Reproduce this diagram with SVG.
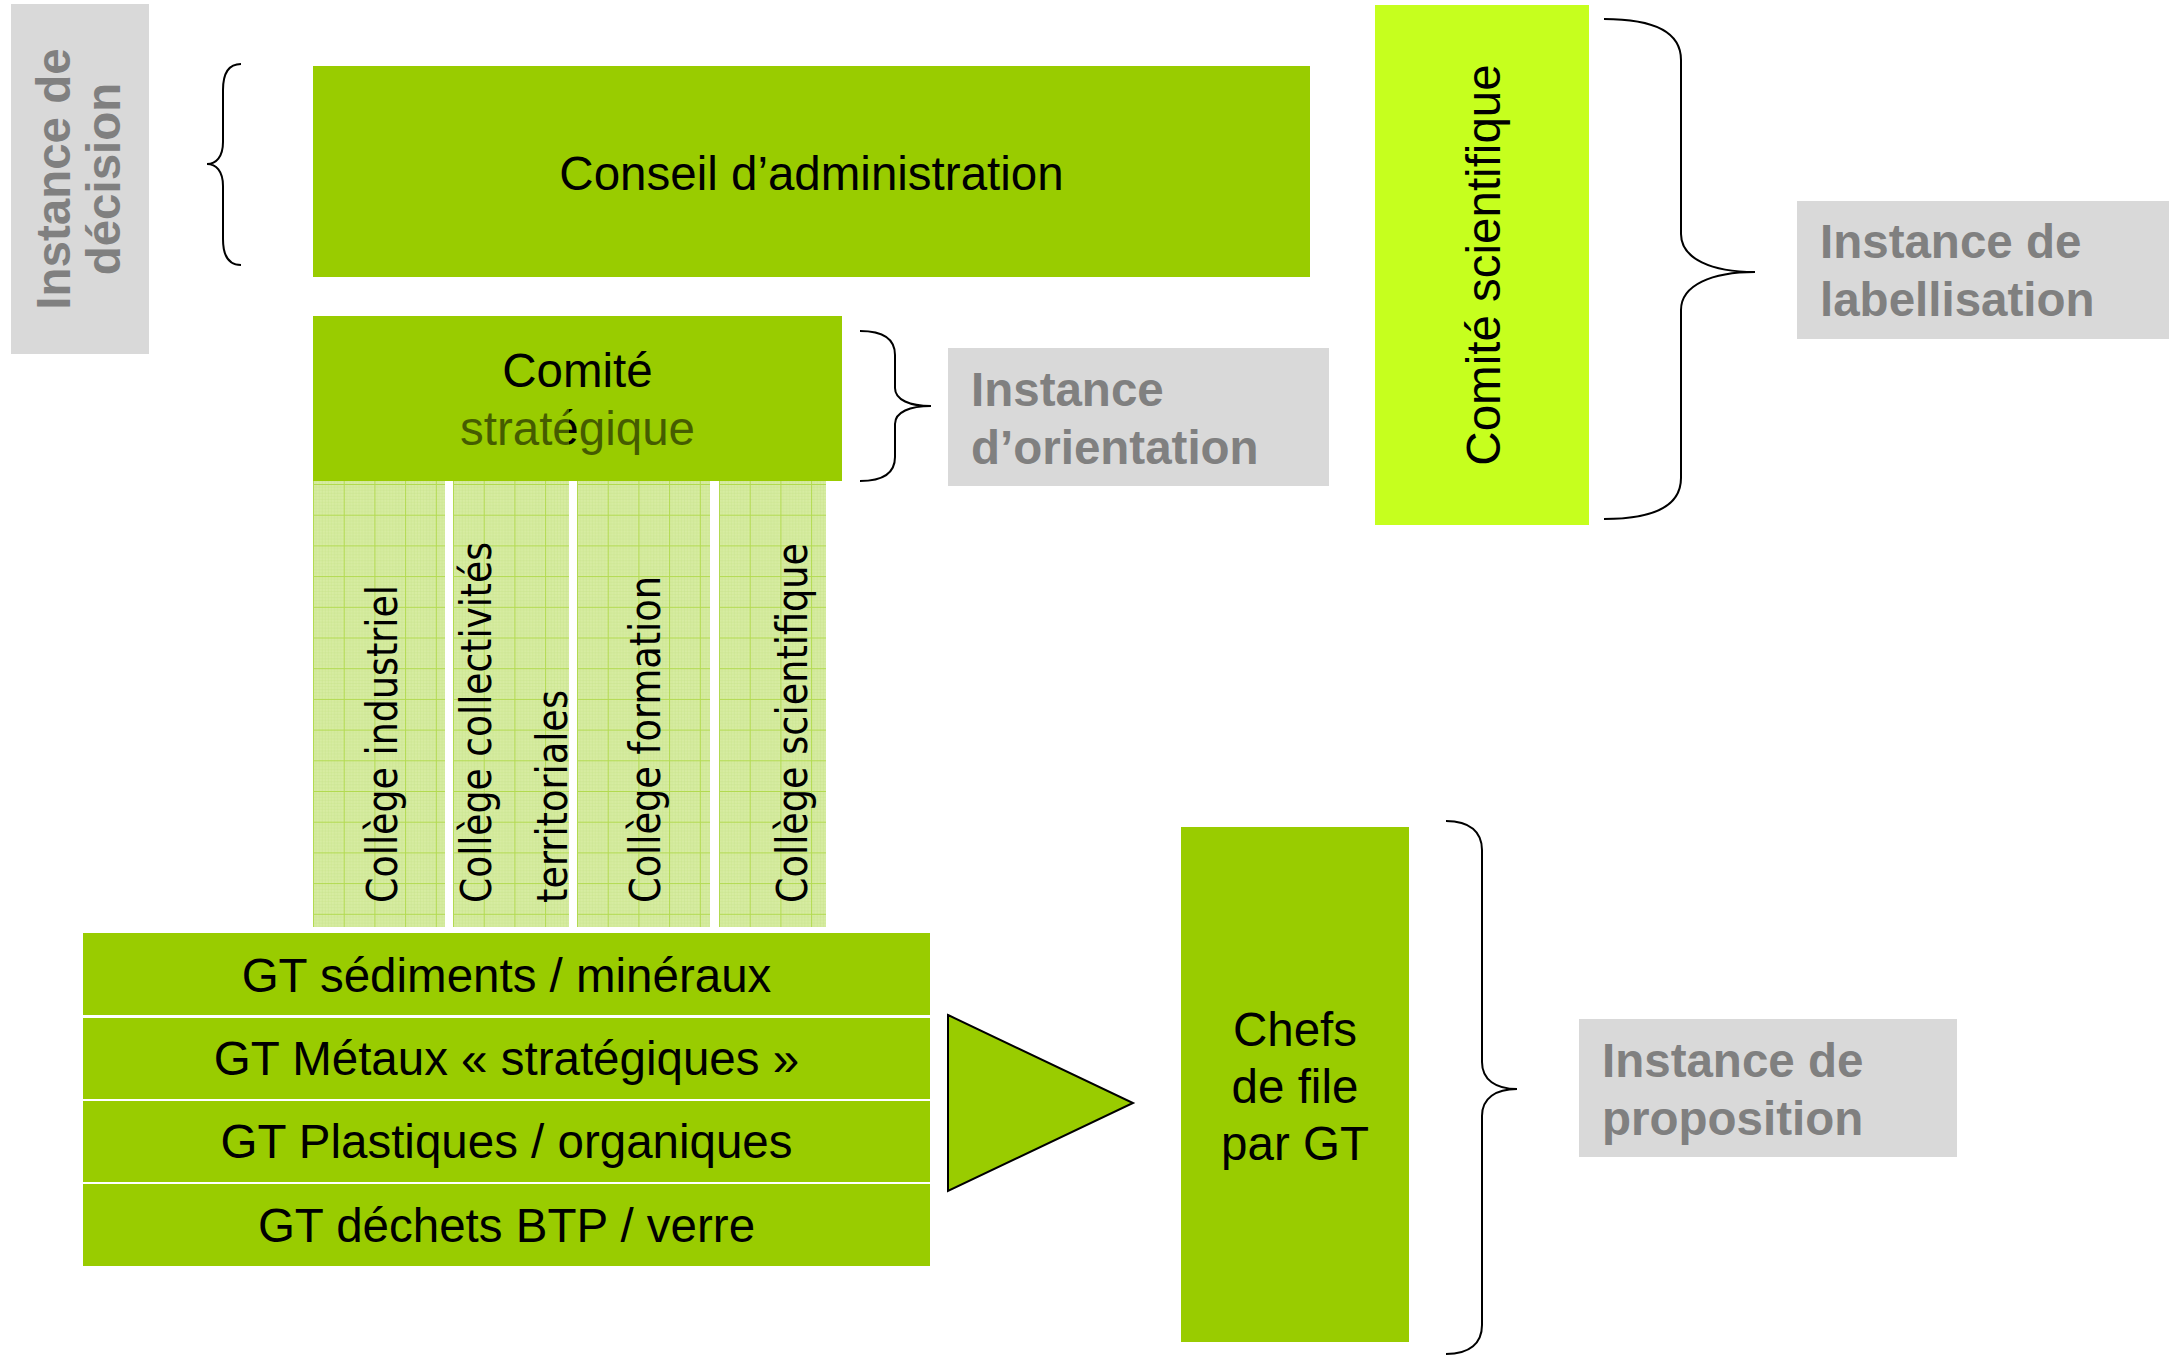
<svg xmlns="http://www.w3.org/2000/svg" width="2179" height="1358" viewBox="0 0 2179 1358">
  <style>
    .box { fill: #99cc00; }
    .sci { fill: #c6ff1e; }
    .gray { fill: #d9d9d9; }
    .t { font-family: "Liberation Sans", Arial, sans-serif; font-size: 47.5px; fill: #000000; }
    .g { font-family: "Liberation Sans", Arial, sans-serif; font-weight: bold; font-size: 47.5px; fill: #808080; }
    .c { font-family: "DejaVu Sans", Verdana, sans-serif; font-size: 43px; fill: #000000; }
    .brace { fill: none; stroke: #000000; stroke-width: 2; }
    .ov { fill: #99cc00; opacity: 0.45; }
  </style>
  <defs>
    <pattern id="grid" patternUnits="userSpaceOnUse" x="0" y="3" width="30.7" height="30.7">
      <rect x="0" y="0" width="30.7" height="30.7" fill="#d7eca2"/>
      <path d="M3.07,0V30.7M6.14,0V30.7M9.21,0V30.7M12.28,0V30.7M15.35,0V30.7M18.42,0V30.7M21.49,0V30.7M24.56,0V30.7M27.63,0V30.7M0,3.07H30.7M0,6.14H30.7M0,9.21H30.7M0,12.28H30.7M0,15.35H30.7M0,18.42H30.7M0,21.49H30.7M0,24.56H30.7M0,27.63H30.7" stroke="#c6e288" stroke-width="0.8" opacity="0.5" fill="none"/>
      <path d="M0.5,0V30.7M0,0.5H30.7" stroke="#b2da50" stroke-width="1" fill="none"/>
    </pattern>
  </defs>

  <!-- Instance de décision -->
  <g id="instance-decision">
    <rect class="gray" x="11" y="4" width="138" height="350"/>
    <text class="g" transform="translate(70,179) rotate(-90)" text-anchor="middle">Instance de</text>
    <text class="g" transform="translate(120,179) rotate(-90)" text-anchor="middle">décision</text>
  </g>

  <!-- Conseil d'administration -->
  <g id="conseil">
    <rect class="box" x="313" y="66" width="997" height="211"/>
    <text class="t" x="811.5" y="190" text-anchor="middle">Conseil d’administration</text>
  </g>

  <!-- Comité stratégique -->
  <g id="comite-strategique">
    <rect class="box" x="313" y="316" width="529" height="165"/>
    <text class="t" x="577.5" y="387" text-anchor="middle">Comité</text>
    <text class="t" x="577.5" y="445" text-anchor="middle">stratégique</text>
    <rect class="ov" x="313" y="393" width="132" height="88"/>
    <rect class="ov" x="453" y="393" width="116" height="88"/>
    <rect class="ov" x="577" y="393" width="133" height="88"/>
    <rect class="ov" x="719" y="393" width="107" height="88"/>
  </g>

  <!-- Collèges -->
  <g id="college-industriel">
    <g transform="translate(313,481)"><rect x="0" y="0" width="132" height="446" fill="url(#grid)"/></g>
    <text class="c" transform="translate(397,903) rotate(-90)" textLength="318" lengthAdjust="spacingAndGlyphs">Collège industriel</text>
  </g>
  <g id="college-collectivites">
    <g transform="translate(453,481)"><rect x="0" y="0" width="116" height="446" fill="url(#grid)"/></g>
    <text class="c" transform="translate(491,903) rotate(-90)" textLength="361" lengthAdjust="spacingAndGlyphs">Collège collectivités</text>
    <text class="c" transform="translate(567,903) rotate(-90)" textLength="213" lengthAdjust="spacingAndGlyphs">territoriales</text>
  </g>
  <g id="college-formation">
    <g transform="translate(577,481)"><rect x="0" y="0" width="133" height="446" fill="url(#grid)"/></g>
    <text class="c" transform="translate(660,903) rotate(-90)" textLength="327" lengthAdjust="spacingAndGlyphs">Collège formation</text>
  </g>
  <g id="college-scientifique">
    <g transform="translate(719,481)"><rect x="0" y="0" width="107" height="446" fill="url(#grid)"/></g>
    <text class="c" transform="translate(807,903) rotate(-90)" textLength="360" lengthAdjust="spacingAndGlyphs">Collège scientifique</text>
  </g>

  <!-- Instance d'orientation -->
  <g id="instance-orientation">
    <rect class="gray" x="948" y="348" width="381" height="138"/>
    <text class="g" x="971" y="406">Instance</text>
    <text class="g" x="971" y="464">d’orientation</text>
  </g>

  <!-- Comité scientifique -->
  <g id="comite-scientifique">
    <rect class="sci" x="1375" y="5" width="214" height="520"/>
    <text class="t" transform="translate(1500,265) rotate(-90)" text-anchor="middle">Comité scientifique</text>
  </g>

  <!-- Instance de labellisation -->
  <g id="instance-labellisation">
    <rect class="gray" x="1797" y="201" width="372" height="138"/>
    <text class="g" x="1820" y="258">Instance de</text>
    <text class="g" x="1820" y="316">labellisation</text>
  </g>

  <!-- Groupes de travail -->
  <g id="gt-sediments">
    <rect class="box" x="83" y="933" width="847" height="82"/>
    <text class="t" x="506.5" y="992" text-anchor="middle">GT sédiments / minéraux</text>
  </g>
  <g id="gt-metaux">
    <rect class="box" x="83" y="1018" width="847" height="81"/>
    <text class="t" x="506.5" y="1075" text-anchor="middle">GT Métaux « stratégiques »</text>
  </g>
  <g id="gt-plastiques">
    <rect class="box" x="83" y="1101" width="847" height="81"/>
    <text class="t" x="506.5" y="1158" text-anchor="middle">GT Plastiques / organiques</text>
  </g>
  <g id="gt-dechets">
    <rect class="box" x="83" y="1184" width="847" height="82"/>
    <text class="t" x="506.5" y="1242" text-anchor="middle">GT déchets BTP / verre</text>
  </g>

  <!-- Chefs de file -->
  <g id="chefs-de-file">
    <rect class="box" x="1181" y="827" width="228" height="515"/>
    <text class="t" x="1295" y="1046" text-anchor="middle">Chefs</text>
    <text class="t" x="1295" y="1103" text-anchor="middle">de file</text>
    <text class="t" x="1295" y="1160" text-anchor="middle">par GT</text>
  </g>

  <!-- Instance de proposition -->
  <g id="instance-proposition">
    <rect class="gray" x="1579" y="1019" width="378" height="138"/>
    <text class="g" x="1602" y="1077">Instance de</text>
    <text class="g" x="1602" y="1135">proposition</text>
  </g>

  <!-- Connectors -->
  <g id="connectors">
    <polygon points="948,1015 1133,1103 948,1191" fill="#99cc00" stroke="#000000" stroke-width="2" stroke-linejoin="miter"/>
    <path class="brace" d="M241,64 C230,64 223,72 223,90 L223,142 C223,157 216,164 207,164 C216,164 223,171 223,186 L223,239 C223,257 230,265 241,265"/>
    <path class="brace" d="M860,331 C882,331 895,338 895,355 L895,388 C895,400 910,406 931,406 C910,406 895,412 895,424 L895,457 C895,474 882,481 860,481"/>
    <path class="brace" d="M1604,19 C1655,19 1681,32 1681,60 L1681,234 C1681,259 1712,272 1755,272 C1712,272 1681,285 1681,310 L1681,478 C1681,506 1655,519 1604,519"/>
    <path class="brace" d="M1446,821 C1470,821 1482,832 1482,850 L1482,1062 C1482,1080 1496,1089 1517,1089 C1496,1089 1482,1098 1482,1116 L1482,1325 C1482,1343 1470,1354 1446,1354"/>
  </g>
</svg>
